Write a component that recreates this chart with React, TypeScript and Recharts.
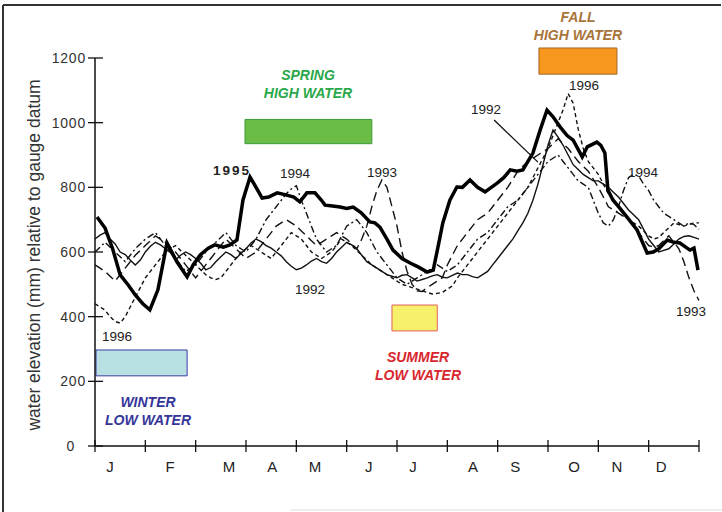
import {
  LineChart,
  Line,
  XAxis,
  YAxis,
  ReferenceArea,
  ReferenceLine,
} from "recharts";

// thick 1995 trace: [month position, mm], 0 = start of Jan, 12 = end of Dec
const y1995 = [
  [0.04, 708], [0.2, 674], [0.35, 610], [0.5, 529], [0.66, 498], [0.8, 467], [0.95, 440],
  [1.09, 421], [1.25, 483], [1.43, 628], [1.63, 569], [1.83, 523], [1.95, 560], [2.09, 591],
  [2.25, 612], [2.38, 622], [2.55, 615], [2.68, 622], [2.82, 637], [2.94, 761], [3.08, 832],
  [3.2, 800], [3.32, 767], [3.45, 770], [3.62, 783], [3.81, 776], [3.95, 770], [4.07, 755],
  [4.21, 783], [4.37, 783], [4.5, 760], [4.57, 745], [4.72, 742], [4.87, 739], [5.0, 735],
  [5.13, 739], [5.29, 721], [5.46, 693], [5.56, 690], [5.66, 677], [5.8, 640], [5.92, 606],
  [6.1, 580], [6.26, 566], [6.42, 554], [6.6, 538], [6.72, 544], [6.82, 620], [6.91, 690],
  [7.05, 760], [7.19, 801], [7.3, 800], [7.45, 823], [7.6, 800], [7.75, 786], [7.99, 813],
  [8.12, 830], [8.25, 854], [8.38, 850], [8.5, 854], [8.7, 906], [8.85, 980], [8.98, 1039],
  [9.1, 1018], [9.24, 987], [9.38, 960], [9.5, 946], [9.68, 894], [9.78, 925], [9.97, 940],
  [10.05, 930], [10.13, 906], [10.19, 792], [10.29, 761], [10.43, 735], [10.57, 708],
  [10.77, 668], [10.97, 597], [11.09, 600], [11.2, 610], [11.37, 637], [11.5, 630],
  [11.62, 628], [11.82, 606], [11.9, 612], [11.98, 544],
];

// other years read every 0.1 month (one row = one month), last value = end of Dec
const y1992 = [
  640, 652, 660, 640, 625, 600, 592, 575, 560, 575,
  600, 618, 630, 622, 610, 598, 575, 590, 600, 592,
  580, 565, 545, 552, 570, 585, 600, 592, 580, 595,
  610, 628, 640, 632, 620, 612, 600, 588, 570, 556,
  545, 550, 560, 572, 580, 570, 565, 580, 600, 615,
  630, 622, 610, 590, 570, 560, 550, 540, 530, 525,
  520, 528, 530, 520, 510, 515, 520, 526, 530, 522,
  520, 528, 535, 530, 530, 524, 520, 530, 540, 560,
  580, 600, 620, 640, 665, 690, 720, 760, 810, 870,
  930, 977, 955, 930, 900, 870, 855, 840, 830, 820,
  820, 810, 800, 785, 770, 750, 730, 715, 700, 670,
  640, 620, 600, 605, 610, 625, 640, 648, 650, 645,
  640,
];

const y1993 = [
  560, 550, 540, 525, 510, 530, 550, 570, 590, 605,
  620, 635, 650, 640, 630, 615, 600, 580, 560, 540,
  520, 540, 560, 580, 600, 620, 640, 625, 610, 595,
  580, 590, 600, 620, 640, 660, 680, 690, 700, 690,
  680, 665, 650, 635, 620, 630, 640, 650, 660, 650,
  640, 625, 610, 640, 680, 740, 790, 823, 800, 740,
  680, 600, 540, 500, 480, 478, 490, 500, 510, 520,
  560, 590, 620, 640, 660, 680, 700, 710, 720, 740,
  760, 780, 800, 825, 850, 865, 880, 890, 900, 910,
  920, 935, 950, 935, 920, 900, 880, 865, 850, 825,
  800, 770, 740, 730, 720, 710, 700, 680, 660, 640,
  620, 615, 620, 635, 650, 630, 610, 570, 520, 480,
  450,
];

const y1994 = [
  600, 615, 630, 615, 600, 585, 570, 590, 610, 625,
  640, 650, 660, 640, 620, 600, 580, 560, 540, 550,
  560, 580, 600, 615, 630, 645, 660, 640, 620, 610,
  600, 620, 640, 670, 700, 720, 740, 760, 780, 795,
  805, 760, 720, 680, 640, 620, 600, 610, 620, 650,
  680, 690, 700, 680, 660, 630, 600, 580, 560, 540,
  520, 510, 500, 510, 520, 530, 540, 550, 560, 550,
  540, 550, 560, 580, 600, 620, 640, 650, 660, 680,
  700, 720, 740, 750, 760, 780, 800, 820, 840, 860,
  880, 890, 900, 880, 860, 840, 820, 810, 800, 760,
  720, 690, 680, 700, 740, 790, 830, 840, 835, 810,
  790, 760, 740, 720, 710, 700, 690, 680, 690, 685,
  670,
];

const y1996 = [
  440, 430, 420, 400, 385, 380, 400, 430, 460, 490,
  520, 540, 560, 580, 600, 610, 620, 605, 590, 575,
  560, 545, 530, 520, 515, 520, 540, 560, 580, 600,
  610, 620, 610, 600, 590, 580, 600, 620, 640, 660,
  650, 640, 620, 600, 590, 580, 590, 600, 620, 640,
  630, 620, 605, 590, 575, 560, 550, 540, 530, 520,
  510, 500, 495, 490, 485, 480, 475, 470, 472, 475,
  485, 495, 520, 540, 560, 580, 600, 620, 640, 660,
  680, 700, 720, 740, 760, 780, 800, 830, 860, 890,
  920, 960, 1000, 1040, 1090, 1060, 980, 920, 880, 860,
  840, 810, 780, 760, 740, 720, 700, 690, 680, 665,
  650, 640, 645, 660, 675, 690, 685, 680, 685, 690,
  690,
];

const yTicks = [0, 200, 400, 600, 800, 1000, 1200];
const monthTicks = [0, 1, 2, 3, 4, 5, 6, 7, 8, 9, 10, 11, 12];
const monthLabels = ["J", "F", "M", "A", "M", "J", "J", "A", "S", "O", "N", "D"];
const monthLabelPos = [0.3, 1.49, 2.66, 3.52, 4.37, 5.44, 6.32, 7.51, 8.35, 9.52, 10.37, 11.25];

const table = y1992.map((_, i) => ({
  m: i / 10,
  y1992: y1992[i],
  y1993: y1993[i],
  y1994: y1994[i],
  y1996: y1996[i],
}));
const thick = y1995.map(([m, v]) => ({ m, y1995: v }));
const xTicks = [...monthTicks, ...monthLabelPos].sort((a, b) => a - b);

const FONT = "'Liberation Sans', Arial, Helvetica, sans-serif";

const YTick = (props: any) => {
  const { x, y, payload } = props;
  const tx = payload.value === 0 ? x - 20 : x - 9;
  return (
    <g>
      <line x1={x - 7} x2={x + 8} y1={y} y2={y} stroke="#111" strokeWidth={1.3} />
      <text x={tx} y={y} dy={5} textAnchor="end" fontSize={14} letterSpacing={0.8} fill="#333" fontFamily={FONT}>
        {payload.value}
      </text>
    </g>
  );
};

// integer ticks are month boundaries (marks), the others carry the month letters
const XTick = (props: any) => {
  const { x, y, payload } = props;
  const v = payload.value;
  if (Number.isInteger(v)) {
    return <line x1={x} x2={x} y1={y - 6} y2={y + 6} stroke="#111" strokeWidth={1.3} />;
  }
  const i = monthLabelPos.indexOf(v);
  return (
    <text x={x} y={y} dy={26} textAnchor="middle" fontSize={15} fill="#222" fontFamily={FONT}>
      {monthLabels[i]}
    </text>
  );
};

const ann = { fontFamily: FONT, fontWeight: 700, fontStyle: "italic", fontSize: 14 } as const;
const yr = { fontFamily: FONT, fontSize: 13.5, fill: "#222" } as const;

export default function App() {
  return (
    <div style={{ position: "absolute", left: 0, top: 0, width: 722, height: 512, background: "#fff" }}>
      <LineChart width={722} height={512} data={table} margin={{ top: 58, right: 23, bottom: 0, left: 35 }}>
        <XAxis
          dataKey="m"
          type="number"
          domain={[0, 12]}
          ticks={xTicks}
          interval={0}
          height={66}
          tickSize={0}
          tickMargin={0}
          tick={<XTick />}
          axisLine={{ stroke: "#111", strokeWidth: 1.5 }}
        />
        <YAxis
          type="number"
          domain={[0, 1200]}
          ticks={yTicks}
          width={60}
          tickSize={0}
          tickMargin={0}
          tick={<YTick />}
          axisLine={{ stroke: "#111", strokeWidth: 1.5 }}
        />

        <ReferenceArea x1={2.98} x2={5.5} y1={935} y2={1010} fill="#6cbd45" fillOpacity={1} stroke="#3a9c3a" ifOverflow="visible" />
        <ReferenceArea x1={8.82} x2={10.37} y1={1150} y2={1231} fill="#f7971d" fillOpacity={1} stroke="#a0672a" ifOverflow="visible" />
        <ReferenceArea x1={0.02} x2={1.83} y1={217} y2={297} fill="#b9e0e2" fillOpacity={1} stroke="#3b3ba5" ifOverflow="visible" />
        <ReferenceArea x1={5.9} x2={6.8} y1={356} y2={436} fill="#f6f06a" fillOpacity={1} stroke="#e2605a" ifOverflow="visible" />

        <Line dataKey="y1992" type="linear" dot={false} stroke="#111" strokeWidth={1.4} isAnimationActive={false} />
        <Line dataKey="y1993" type="linear" dot={false} stroke="#111" strokeWidth={1.4} strokeDasharray="9 5" isAnimationActive={false} />
        <Line dataKey="y1994" type="linear" dot={false} stroke="#111" strokeWidth={1.4} strokeDasharray="7 3 2 3" isAnimationActive={false} />
        <Line dataKey="y1996" type="linear" dot={false} stroke="#111" strokeWidth={1.4} strokeDasharray="4 3" isAnimationActive={false} />
        <Line data={thick} dataKey="y1995" type="linear" dot={false} stroke="#000" strokeWidth={3.5} isAnimationActive={false} />

        <ReferenceLine segment={[{ x: 7.93, y: 1008 }, { x: 8.8, y: 878 }]} stroke="#111" strokeWidth={1.3} ifOverflow="visible" />
      </LineChart>

      <svg width={722} height={512} style={{ position: "absolute", left: 0, top: 0, pointerEvents: "none" }}>
        <line x1={3} y1={5} x2={721} y2={5} stroke="#333" strokeWidth={2} />
        <line x1={3} y1={5} x2={3} y2={512} stroke="#333" strokeWidth={2} />
        <line x1={290} y1={510} x2={722} y2={510} stroke="#ddd" strokeWidth={1} />

        <text x={35} y={255} transform="rotate(-90 35 255)" textAnchor="middle" dominantBaseline="middle" fontSize={17.5} fill="#333" fontFamily={FONT}>
          water elevation (mm) relative to gauge datum
        </text>

        <g textAnchor="middle">
          <text x={308} y={80} fill="#2aa84a" {...ann}>SPRING</text>
          <text x={308} y={98} fill="#2aa84a" {...ann}>HIGH WATER</text>
          <text x={578} y={22} fill="#a8743a" {...ann}>FALL</text>
          <text x={578} y={40} fill="#a8743a" {...ann}>HIGH WATER</text>
          <text x={148} y={407} fill="#35359a" {...ann}>WINTER</text>
          <text x={148} y={425} fill="#35359a" {...ann}>LOW WATER</text>
          <text x={418} y={362} fill="#d8262e" {...ann}>SUMMER</text>
          <text x={418} y={380} fill="#d8262e" {...ann}>LOW WATER</text>
        </g>

        <g textAnchor="middle">
          <text x={232} y={175} {...yr} fontWeight={700} letterSpacing={2}>1995</text>
          <text x={295} y={178} {...yr}>1994</text>
          <text x={382} y={177} {...yr}>1993</text>
          <text x={310} y={294} {...yr}>1992</text>
          <text x={117} y={341} {...yr}>1996</text>
          <text x={486} y={114} {...yr}>1992</text>
          <text x={584} y={90} {...yr}>1996</text>
          <text x={643} y={177} {...yr}>1994</text>
          <text x={691} y={316} {...yr}>1993</text>
        </g>
      </svg>
    </div>
  );
}
